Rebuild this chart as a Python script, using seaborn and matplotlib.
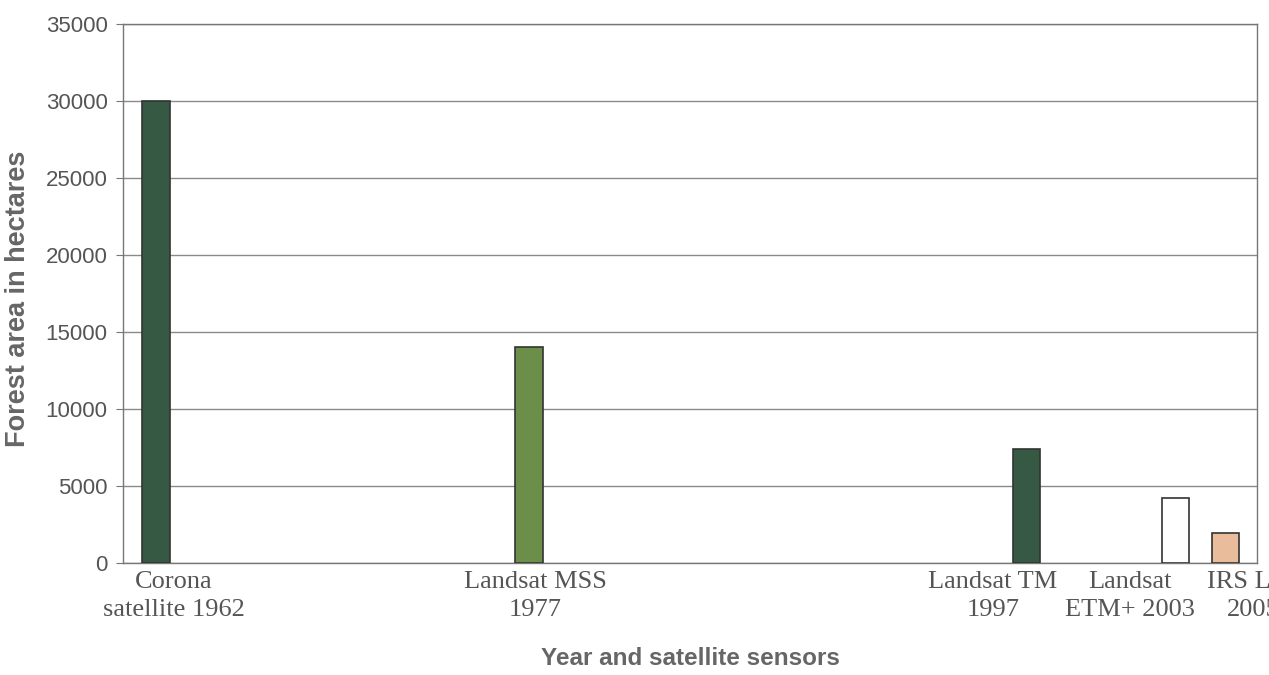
import seaborn as sns
from matplotlib import pyplot as plt
import pandas as pd

# data
sensors = ["Corona\nsatellite 1962", "Landsat MSS\n1977", "Landsat TM\n1997",
           "Landsat\nETM+ 2003", "IRS Liss\n2005"]
years = [1962, 1977, 1997, 2003, 2005]
forest_area = [30000, 14000, 7400, 4200, 1950]
bar_colors = ["#2f5f40", "#6b9b3c", "#2f5f40", "#ffffff", "#f6bb8e"]

# label placement (years offset from bar), style only
label_shift = [0.7, 0.25, -1.35, -1.85, 1.1]

df = pd.DataFrame({"year": years, "area": forest_area})

sns.set_style("white")
plt.rcParams["font.family"] = ["Liberation Sans", "DejaVu Sans"]

fig = plt.figure(figsize=(12.69, 6.75), dpi=100)
ax = fig.add_axes([123 / 1269, 112 / 675, (1257 - 123) / 1269, (563 - 24) / 675])

sns.barplot(data=df, x="year", y="area", hue="year",
            palette=dict(zip(years, bar_colors)), native_scale=True,
            dodge=False, width=0.55, legend=False,
            edgecolor="#333333", linewidth=1.2, ax=ax, zorder=3)

ax.set_xlim(1960.67, 2006.27)
ax.set_ylim(0, 35000)
ax.set_yticks(range(0, 35001, 5000))
ax.yaxis.grid(True, color="#8a8a8a", linewidth=1.0, zorder=0)
ax.set_axisbelow(True)

ax.set_xticks([])
ax.tick_params(axis="y", labelsize=16, labelcolor="#555555", length=5,
               color="#777777", direction="out", left=True, pad=6)

for sp in ax.spines.values():
    sp.set_color("#777777")
    sp.set_linewidth(1.0)

for lab, yr, sh in zip(sensors, years, label_shift):
    ax.text(yr + sh, -500, lab, ha="center", va="top",
            fontsize=19, color="#555555", linespacing=1.4,
            family=["Liberation Serif", "DejaVu Serif"],
            transform=ax.transData, clip_on=False)

ax.set_xlabel("Year and satellite sensors", fontsize=17.5, fontweight="bold",
              color="#666666")
ax.xaxis.set_label_coords(0.5, -0.155)
ax.set_ylabel("Forest area in hectares", fontsize=19.5, fontweight="bold",
              color="#666666")
ax.yaxis.set_label_coords(-0.081, 0.49)

plt.savefig("out.png", dpi=100)
